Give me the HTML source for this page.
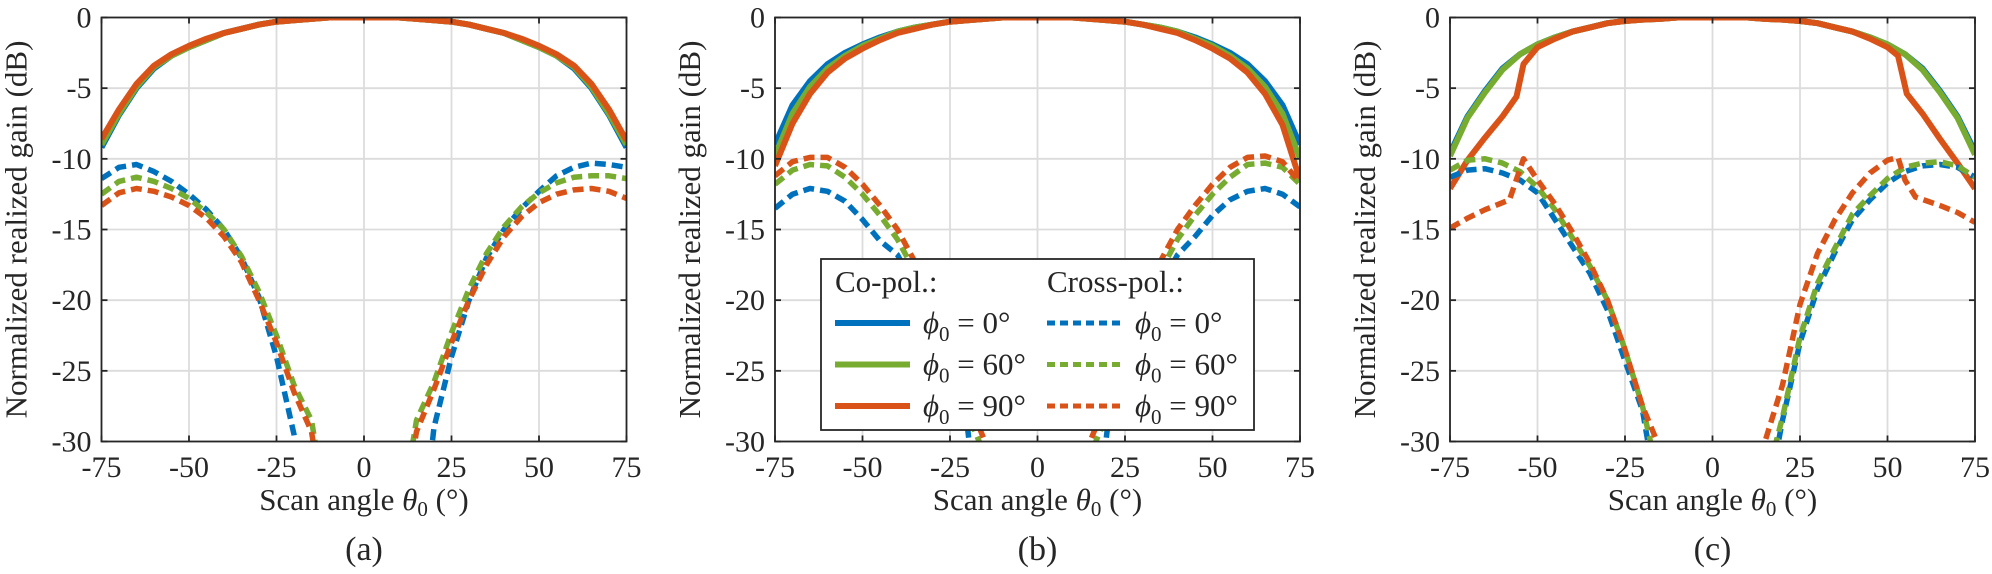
<!DOCTYPE html>
<html><head><meta charset="utf-8">
<style>
html,body{margin:0;padding:0;background:#fff;}
svg{display:block;}
text{font-family:"Liberation Serif","Times New Roman","Nimbus Roman","Noto Serif CJK SC","DejaVu Serif",serif;}
</style></head>
<body>
<svg id="fig" width="1992" height="574" viewBox="0 0 1992 574" xmlns="http://www.w3.org/2000/svg"></svg>
<script>
const angles = [-75,-70,-65,-60,-55,-50,-45,-40,-35,-30,-25,-20,-15,-10,-5,0,5,10,15,20,25,30,35,40,45,50,55,60,65,70,75];
const xTicks = [-75,-50,-25,0,25,50,75];
const yTicks = [0,-5,-10,-15,-20,-25,-30];
const panelLabels = ["(a)","(b)","(c)"];

// Panel (a)
const aCoBlue   = [-9.2,-6.9,-5.0,-3.6,-2.7,-2.1,-1.6,-1.1,-0.8,-0.5,-0.3,-0.2,-0.1,0,0,0,0,0,-0.1,-0.2,-0.3,-0.5,-0.8,-1.1,-1.6,-2.1,-2.7,-3.6,-5.0,-6.9,-9.2];
const aCoGreen  = [-9.0,-6.8,-4.9,-3.5,-2.7,-2.1,-1.6,-1.1,-0.8,-0.5,-0.3,-0.2,-0.1,0,0,0,0,0,-0.1,-0.2,-0.3,-0.5,-0.8,-1.1,-1.6,-2.1,-2.7,-3.5,-4.9,-6.8,-9.0];
const aCoOrange = [-8.6,-6.5,-4.7,-3.4,-2.6,-2.0,-1.5,-1.1,-0.8,-0.5,-0.3,-0.2,-0.1,0,0,0,0,0,-0.1,-0.2,-0.3,-0.5,-0.8,-1.1,-1.5,-2.0,-2.6,-3.4,-4.7,-6.5,-8.7];
const aXBlue    = [-11.4,-10.6,-10.4,-10.9,-11.6,-12.5,-13.6,-15.0,-17.0,-19.8,-24.0,-29.5,-40,-40,-40,-40,-40,-40,-40,-29.0,-24.0,-20.0,-17.0,-15.0,-13.5,-12.3,-11.2,-10.6,-10.3,-10.4,-10.6];
const aXGreen   = [-12.5,-11.6,-11.3,-11.6,-12.1,-12.8,-13.8,-15.0,-16.9,-19.4,-22.5,-26.0,-28.5,-36,-40,-40,-40,-36,-28.5,-25.8,-22.3,-19.2,-16.7,-14.8,-13.4,-12.4,-11.7,-11.3,-11.2,-11.2,-11.4];
const aXOrange  = [-13.3,-12.4,-12.1,-12.3,-12.7,-13.3,-14.2,-15.5,-17.3,-20.0,-23.0,-26.5,-29.3,-37,-40,-40,-40,-37,-29.3,-26.3,-23.0,-20.0,-17.5,-15.5,-14.1,-13.1,-12.5,-12.2,-12.1,-12.3,-12.8];

// Panel (b)
const bCoBlue   = [-9.0,-6.2,-4.5,-3.3,-2.5,-1.9,-1.4,-1.0,-0.7,-0.5,-0.3,-0.2,-0.1,0,0,0,0,0,-0.1,-0.2,-0.3,-0.5,-0.7,-1.0,-1.4,-1.9,-2.5,-3.3,-4.5,-6.2,-9.0];
const bCoGreen  = [-9.8,-6.8,-4.9,-3.6,-2.7,-2.0,-1.5,-1.0,-0.7,-0.5,-0.3,-0.2,-0.1,0,0,0,0,0,-0.1,-0.2,-0.3,-0.5,-0.7,-1.0,-1.5,-2.0,-2.7,-3.6,-4.9,-6.8,-10.0];
const bCoOrange = [-10.5,-7.5,-5.4,-3.9,-2.9,-2.2,-1.6,-1.1,-0.8,-0.5,-0.3,-0.2,-0.1,0,0,0,0,0,-0.1,-0.2,-0.3,-0.5,-0.8,-1.1,-1.6,-2.2,-2.9,-3.9,-5.4,-7.6,-11.5];
const bXBlue    = [-13.5,-12.5,-12.1,-12.3,-13.0,-14.3,-15.8,-16.8,-19.0,-22.0,-25.5,-29.0,-40,-40,-40,-40,-40,-40,-40,-29.0,-25.5,-22.0,-19.0,-16.8,-15.5,-14.0,-12.9,-12.3,-12.1,-12.5,-13.4];
const bXGreen   = [-11.8,-10.8,-10.4,-10.5,-11.3,-12.5,-14.0,-15.7,-18.0,-21.0,-24.5,-28.0,-31.0,-40,-40,-40,-40,-40,-31.0,-28.0,-24.5,-21.0,-18.0,-15.7,-14.0,-12.5,-11.3,-10.4,-10.3,-10.6,-11.8];
const bXOrange  = [-11.2,-10.2,-9.9,-9.9,-10.6,-11.8,-13.3,-15.0,-17.3,-20.3,-23.5,-27.0,-30.0,-40,-40,-40,-40,-40,-30.0,-27.0,-23.5,-20.3,-17.3,-15.0,-13.3,-11.8,-10.6,-9.9,-9.8,-10.2,-11.7];

// Panel (c)
const cCoBlue   = [-9.6,-7.0,-5.2,-3.6,-2.6,-1.9,-1.4,-1.0,-0.7,-0.4,-0.25,-0.15,-0.1,0,0,0,0,0,-0.1,-0.15,-0.25,-0.4,-0.7,-1.0,-1.4,-1.9,-2.6,-3.6,-5.2,-7.0,-9.5];
const cCoGreen  = [-9.8,-7.1,-5.3,-3.7,-2.6,-1.9,-1.4,-1.0,-0.7,-0.4,-0.25,-0.15,-0.1,0,0,0,0,0,-0.1,-0.15,-0.25,-0.4,-0.7,-1.0,-1.4,-1.9,-2.6,-3.7,-5.3,-7.1,-9.7];
const cCoOrangeAngles = [-75,-70,-65,-60,-56,-54,-50,-45,-40,-35,-30,-25,-20,-15,-10,-5,0,5,10,15,20,25,30,35,40,45,50,53,55.5,60,65,70,75];
const cCoOrange = [-12.1,-10.1,-8.5,-7.0,-5.6,-3.3,-2.1,-1.5,-1.0,-0.7,-0.4,-0.25,-0.15,-0.1,0,0,0,0,0,-0.1,-0.15,-0.25,-0.4,-0.7,-1.0,-1.5,-2.1,-2.7,-5.4,-6.8,-8.6,-10.3,-12.1];
const cXBlue    = [-11.3,-10.8,-10.7,-11.0,-11.5,-12.4,-14.3,-16.2,-18.1,-20.7,-24.3,-27.8,-35,-40,-40,-40,-40,-40,-35,-28.5,-23.0,-19.2,-16.6,-14.3,-12.9,-11.7,-10.9,-10.5,-10.4,-10.6,-11.3];
const cXGreen   = [-10.8,-10.1,-10.0,-10.3,-10.9,-12.0,-13.6,-15.6,-17.6,-20.0,-23.5,-27.5,-33,-40,-40,-40,-40,-40,-33,-28.3,-22.6,-18.8,-16.3,-13.9,-12.6,-11.4,-10.6,-10.3,-10.2,-10.5,-11.3];
const cXOrangeAngles = [-75,-70,-65,-58,-54,-50,-45,-40,-35,-30,-25,-20,-15,-10,10,15,20,25,30,35,40,45,50,53,55,58,65,70,75];
const cXOrange  = [-14.9,-14.2,-13.6,-12.9,-10.0,-11.5,-13.2,-15.2,-17.4,-20.0,-23.5,-27.5,-30.5,-40,-40,-30.0,-26.0,-20.3,-16.7,-14.3,-12.4,-11.0,-10.1,-9.9,-11.5,-12.7,-13.3,-13.8,-14.5];

const C = {blue:"#0072BD", green:"#77AC30", orange:"#D95319"};
const panels = [
  {left:101.5, series:[
    {a:angles,v:aCoBlue,c:C.blue,d:false},{a:angles,v:aCoGreen,c:C.green,d:false},{a:angles,v:aCoOrange,c:C.orange,d:false},
    {a:angles,v:aXBlue,c:C.blue,d:true},{a:angles,v:aXGreen,c:C.green,d:true},{a:angles,v:aXOrange,c:C.orange,d:true}]},
  {left:775, series:[
    {a:angles,v:bCoBlue,c:C.blue,d:false},{a:angles,v:bCoGreen,c:C.green,d:false},{a:angles,v:bCoOrange,c:C.orange,d:false},
    {a:angles,v:bXBlue,c:C.blue,d:true},{a:angles,v:bXGreen,c:C.green,d:true},{a:angles,v:bXOrange,c:C.orange,d:true}]},
  {left:1450, series:[
    {a:angles,v:cCoBlue,c:C.blue,d:false},{a:angles,v:cCoGreen,c:C.green,d:false},{a:cCoOrangeAngles,v:cCoOrange,c:C.orange,d:false},
    {a:angles,v:cXBlue,c:C.blue,d:true},{a:angles,v:cXGreen,c:C.green,d:true},{a:cXOrangeAngles,v:cXOrange,c:C.orange,d:true}]}
];
const seriesNames = ["copol-phi0","copol-phi60","copol-phi90","crosspol-phi0","crosspol-phi60","crosspol-phi90"];
const W = 525, TOP = 17.5, BOT = 441.5;
const NS = "http://www.w3.org/2000/svg";
const svg = document.getElementById('fig');
function mk(tag, attrs, parent){const e=document.createElementNS(NS,tag);for(const k in attrs)e.setAttribute(k,attrs[k]);(parent||svg).appendChild(e);return e;}

panels.forEach((p,pi)=>{
  const L=p.left;
  const xs = t => L + (t+75)/150*W;
  const ys = v => TOP + (0-v)/30*(BOT-TOP);
  const g = mk('g',{});
  
  
  const clipId='clip'+pi;
  const cp=mk('clipPath',{id:clipId},g);
  mk('rect',{x:L,y:TOP,width:W,height:BOT-TOP},cp);
  xTicks.forEach(t=>{const l=mk('line',{x1:xs(t),x2:xs(t),y1:TOP,y2:BOT,stroke:"#dcdcdc","stroke-width":1.8},g);
    });
  yTicks.forEach(t=>{const l=mk('line',{x1:L,x2:L+W,y1:ys(t),y2:ys(t),stroke:"#dcdcdc","stroke-width":1.8},g);
    });
  const sg=mk('g',{'clip-path':'url(#'+clipId+')'},g);
  p.series.forEach((s,si)=>{
    const pts=s.a.map((t,i)=>xs(t).toFixed(1)+','+ys(s.v[i]).toFixed(1)).join(' ');
    const pl=mk('polyline',{points:pts,fill:"none",stroke:s.c,"stroke-width":s.d?5.5:6,"stroke-linejoin":"round","stroke-dasharray":s.d?"11 6":"none"},sg);
    
    
  });
  const box=mk('rect',{x:L,y:TOP,width:W,height:BOT-TOP,fill:"none",stroke:"#262626","stroke-width":1.8},g);
  
  xTicks.forEach(t=>{
    mk('line',{x1:xs(t),x2:xs(t),y1:BOT,y2:BOT-6,stroke:"#262626","stroke-width":1.8},g);
    mk('line',{x1:xs(t),x2:xs(t),y1:TOP,y2:TOP+6,stroke:"#262626","stroke-width":1.8},g);
    const tx=mk('text',{x:xs(t),y:477,"font-size":30,"text-anchor":"middle",fill:"#262626"},g);
    tx.textContent=String(t);
    
  });
  yTicks.forEach(t=>{
    mk('line',{x1:L,x2:L+6,y1:ys(t),y2:ys(t),stroke:"#262626","stroke-width":1.8},g);
    mk('line',{x1:L+W,x2:L+W-6,y1:ys(t),y2:ys(t),stroke:"#262626","stroke-width":1.8},g);
    const tx=mk('text',{x:L-10,y:ys(t)+10,"font-size":30,"text-anchor":"end",fill:"#262626"},g);
    tx.textContent=String(t);
    
  });
  const yt=mk('text',{x:0,y:0,"font-size":31,"text-anchor":"middle",fill:"#262626",transform:`translate(${L-75},${(TOP+BOT)/2}) rotate(-90)`},g);
  yt.textContent="Normalized realized gain (dB)";
  
  const xt=mk('text',{x:L+W/2,y:510,"font-size":31,"text-anchor":"middle",fill:"#262626"},g);
  xt.innerHTML='Scan angle <tspan font-style="italic">θ</tspan><tspan font-size="21" dy="6">0</tspan><tspan dy="-6"> (°)</tspan>';
  
  const pl=mk('text',{x:L+W/2,y:560,"font-size":34,"text-anchor":"middle",fill:"#262626"},g);
  pl.textContent=panelLabels[pi];
  
});

const lg=mk('g',{});


mk('rect',{x:821,y:259,width:433,height:171,fill:"#fff",stroke:"#262626","stroke-width":1.8},lg);
const h1=mk('text',{x:835,y:292,"font-size":31,fill:"#262626"},lg);h1.textContent="Co-pol.:";

const h2=mk('text',{x:1047,y:292,"font-size":31,fill:"#262626"},lg);h2.textContent="Cross-pol.:";

const legVals=["0°","60°","90°"];
const legCols=[C.blue,C.green,C.orange];
[0,1,2].forEach(i=>{
  const y=323+i*41.5;
  [[835,false],[1047,true]].forEach(([x0,d])=>{
    const e=mk('g',{},lg);
    
    
    mk('line',{x1:x0,x2:x0+75,y1:y,y2:y,stroke:legCols[i],"stroke-width":d?5:6,"stroke-dasharray":d?"8 5":"none"},e);
    const t=mk('text',{x:x0+88,y:y+10,"font-size":31,fill:"#262626"},e);
    t.innerHTML='<tspan font-style="italic">ϕ</tspan><tspan font-size="21" dy="8">0</tspan><tspan dy="-8"> = '+legVals[i]+'</tspan>';
  });
});
</script>
</body></html>
